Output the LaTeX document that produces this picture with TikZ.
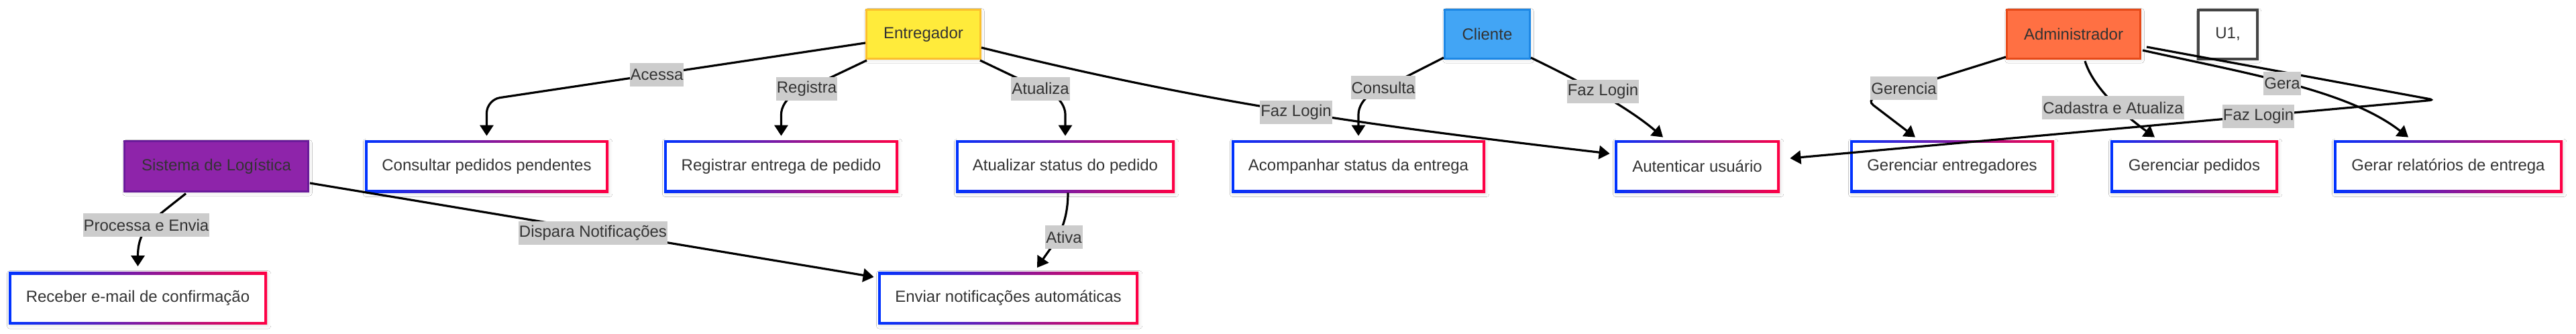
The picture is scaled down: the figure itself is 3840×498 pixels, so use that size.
\documentclass[tikz,border=0pt]{standalone}
\usepackage{fontspec}
\setmainfont{Liberation Sans}
\usetikzlibrary{calc,arrows.meta,shadows.blur}
\definecolor{txt}{HTML}{333333}
\definecolor{gblue}{HTML}{0033FF}
\definecolor{gred}{HTML}{FF0044}
\definecolor{lblgray}{HTML}{CCCCCC}
\definecolor{entfill}{HTML}{FFEB3B}
\definecolor{entdraw}{HTML}{FBC02D}
\definecolor{clifill}{HTML}{42A5F5}
\definecolor{clidraw}{HTML}{1E88E5}
\definecolor{admfill}{HTML}{FF7043}
\definecolor{admdraw}{HTML}{E64A19}
\definecolor{sisfill}{HTML}{8E24AA}
\definecolor{sisdraw}{HTML}{6A1B9A}
\definecolor{udraw}{HTML}{444444}
\begin{document}
\begin{tikzpicture}[x=0.5pt,y=-0.5pt,
  myshadow/.style={blur shadow={shadow xshift=0.8pt,shadow yshift=-1.2pt,shadow opacity=12,shadow blur steps=4}},
  actor/.style={draw,line width=1.5pt,minimum height=36.5pt,inner sep=0pt,text=txt,
    font=\fontsize{12}{14}\selectfont,myshadow},
  gbox/.style={minimum height=39pt,inner sep=0pt,text=txt,font=\fontsize{12}{14}\selectfont,
    left color=gblue,right color=gred,myshadow,
    path picture={\fill[white] ($(path picture bounding box.south west)+(2pt,2pt)$) rectangle ($(path picture bounding box.north east)-(2pt,2pt)$);}},
  lbl/.style={fill=lblgray,text=txt,inner xsep=0.5pt,inner ysep=0pt,minimum height=17.5pt,
    font=\fontsize{12}{14}\selectfont},
  conn/.style={draw=black,line width=1.6pt,-{Triangle[length=8pt,width=10pt]}}]
\fill[white] (0,0) rectangle (3840,498);
\useasboundingbox (0,0) rectangle (3840,498);

% actors
\node[actor,fill=entfill,draw=entdraw,minimum width=85pt] (ent) at (1376.5,51) {Entregador};
\node[actor,fill=clifill,draw=clidraw,minimum width=63.5pt] (cli) at (2217,51) {Cliente};
\node[actor,fill=admfill,draw=admdraw,minimum width=99.5pt] (adm) at (3091,51) {Administrador};
\node[actor,fill=white,draw=udraw,line width=2pt,minimum width=44pt] (u1) at (3321,51) {U1,};
\node[actor,fill=sisfill,draw=sisdraw,minimum width=137pt,minimum height=37.5pt] (sis) at (322.5,248) {Sistema de Logística};

% use cases
\node[gbox,minimum width=181.5pt] (cons) at (725.5,248) {Consultar pedidos pendentes};
\node[gbox,minimum width=174.5pt] (reg) at (1164.5,248) {Registrar entrega de pedido};
\node[gbox,minimum width=163pt] (atu) at (1588,248) {Atualizar status do pedido};
\node[gbox,minimum width=189pt] (acomp) at (2025,248) {Acompanhar status da entrega};
\node[gbox,minimum width=123pt] (aut) at (2530,248) {Autenticar usuário};
\node[gbox,minimum width=152pt] (gent) at (2910,248) {Gerenciar entregadores};
\node[gbox,minimum width=125pt] (gped) at (3271,248) {Gerenciar pedidos};
\node[gbox,minimum width=170.5pt] (grel) at (3649.5,248) {Gerar relatórios de entrega};
\node[gbox,minimum width=192.5pt] (rec) at (205.5,444.5) {Receber e-mail de confirmação};
\node[gbox,minimum width=194pt] (env) at (1503,444.5) {Enviar notificações automáticas};

\coordinate (turn) at (3629,149);

% connectors
\draw[conn,rounded corners=10pt] ($(ent.west)+(0,13)$) -- ($(cons.north)+(0,-60)$) -- ($(cons.north)+(0,-6)$);
\draw[conn,rounded corners=10pt] ($(ent.south west)+(2,1)$) -- ($(reg.north)+(0,-58)$) -- ($(reg.north)+(0,-6)$);
\draw[conn,rounded corners=10pt] ($(ent.south east)+(-2,1)$) -- ($(atu.north)+(0,-58)$) -- ($(atu.north)+(0,-6)$);
\draw[conn] ($(ent.east)+(0,20)$) .. controls +(338,84) and +(-350,-41) .. ($(aut.west)+(-7,-19)$);
\draw[conn,rounded corners=10pt] ($(cli.south west)+(0,-3)$) -- ($(acomp.north)+(0,-58)$) -- ($(acomp.north)+(0,-6)$);
\draw[conn] ($(cli.south east)+(0,-3)$) .. controls +(58,28) and +(-59,-50) .. ($(aut.north)+(-51,-4)$);
\draw[conn,rounded corners=6pt] ($(adm.south west)+(0,-4)$) -- ($(gent.north)+(-127,-59)$) -- ($(gent.north)+(-55,-4)$);
\draw[conn] ($(adm.south)+(17,2)$) .. controls +(14,45) and +(-37,-27) .. ($(gped.north)+(-59,-4)$);
\draw[conn] ($(adm.east)+(2,24)$) .. controls +(158,35) and +(-90,-70) .. ($(grel.north)+(-59.5,-4)$);
\draw[conn,rounded corners=4pt] ($(adm.east)+(8,19)$) -- (turn) -- ($(aut.east)+(15,-12)$);
\draw[conn] ($(sis.south)+(-45.5,1.5)$) .. controls +(-47,38) and +(0,-58) .. ($(rec.north)+(0,-8)$);
\draw[conn] ($(sis.east)+(1,25)$) -- ($(env.west)+(-6,-31.5)$);
\draw[conn] ($(atu.south)+(4,0)$) .. controls +(0,53) and +(24,-35) .. ($(env.north)+(43,-6)$);

% labels
\node[lbl] (lacessa) at (979,111.5) {Acessa};
\node[lbl] (lregistra) at (1202.5,132.5) {Registra};
\node[lbl] (latualiza) at (1551,132) {Atualiza};
\node[lbl] (lfaz1) at (1932,167) {Faz Login};
\node[lbl] (lconsulta) at (2062,130.5) {Consulta};
\node[lbl] (lfaz2) at (2389.5,136.5) {Faz Login};
\node[lbl] (lgerencia) at (2838,131.5) {Gerencia};
\node[lbl] (lcadastra) at (3150,160.5) {Cadastra e Atualiza};
\node[lbl] (lgera) at (3402,124) {Gera};
\node[lbl] (lfaz3) at (3366.5,173.5) {Faz Login};
\node[lbl] (lprocessa) at (218,335.5) {Processa e Envia};
\node[lbl] (ldispara) at (884,347.5) {Dispara Notificações};
\node[lbl] (lativa) at (1586,353.5) {Ativa};
\end{tikzpicture}
\end{document}
